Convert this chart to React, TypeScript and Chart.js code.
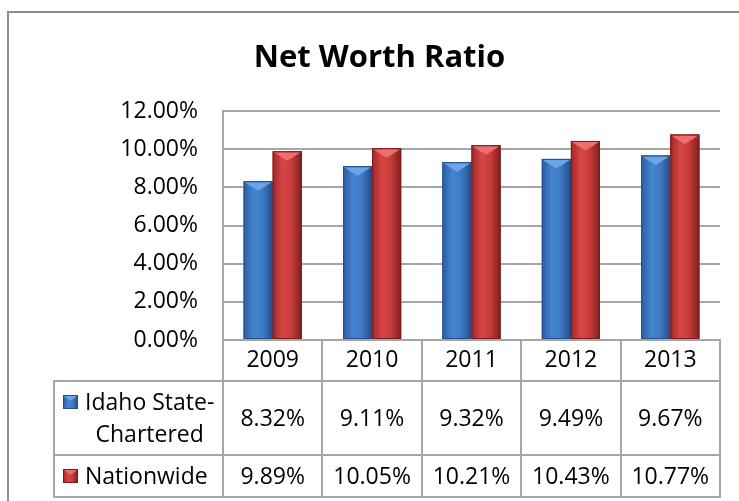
import React, { useEffect, useRef } from 'react';
import { Chart, registerables } from 'chart.js';

Chart.register(...registerables);

// ---- data ----
const TITLE = 'Net Worth Ratio';
const years = ['2009', '2010', '2011', '2012', '2013'];
const idahoLabel = ['Idaho State-', 'Chartered'];
const idahoValues = [8.32, 9.11, 9.32, 9.49, 9.67];
const nationLabel = ['Nationwide'];
const nationValues = [9.89, 10.05, 10.21, 10.43, 10.77];
const yMin = 0;
const yMax = 12;
const yStep = 2;

// ---- styles ----
const FONT = "'Open Sans', sans-serif";
const GRID = '#A6A6A6';
const FRAME = '#8C8C8C';

const SERIES = [
  {
    label: idahoLabel,
    values: idahoValues,
    base: '#3C78C2',
    stops: ['#2C5E9F', '#4584D0', '#3E7AC4', '#244C86'],
    tri: '#6AA5EC',
    border: '#24508C',
  },
  {
    label: nationLabel,
    values: nationValues,
    base: '#C83B3B',
    stops: ['#A02828', '#D84646', '#C73B3B', '#7E1F1F'],
    tri: '#EE6E6E',
    border: '#7A1C1C',
  },
];

function fmt(v: number) {
  return v.toFixed(2) + '%';
}

function drawBevelRect(ctx: CanvasRenderingContext2D, L: number, T: number, W: number, H: number, st: any, triDepth: number) {
  const g = ctx.createLinearGradient(L, 0, L + W, 0);
  g.addColorStop(0, st.stops[0]);
  g.addColorStop(0.35, st.stops[1]);
  g.addColorStop(0.65, st.stops[2]);
  g.addColorStop(1, st.stops[3]);
  ctx.fillStyle = g;
  ctx.fillRect(L, T, W, H);
  ctx.beginPath();
  ctx.moveTo(L + 1, T + 1);
  ctx.lineTo(L + W - 1, T + 1);
  ctx.lineTo(L + W / 2, T + triDepth);
  ctx.closePath();
  ctx.fillStyle = st.tri;
  ctx.fill();
  ctx.strokeStyle = st.border;
  ctx.lineWidth = 1;
  ctx.strokeRect(L + 0.5, T + 0.5, W - 1, H - 1);
}

const deco = {
  id: 'deco',
  beforeDraw(chart: any) {
    const ctx = chart.ctx as CanvasRenderingContext2D;
    ctx.save();
    ctx.fillStyle = '#FFFFFF';
    ctx.fillRect(0, 0, chart.width, chart.height);
    ctx.strokeStyle = FRAME;
    ctx.lineWidth = 2;
    ctx.strokeRect(8, 12, chart.width + 40, chart.height + 40);
    ctx.fillStyle = '#000000';
    ctx.font = `bold 31px ${FONT}`;
    ctx.textAlign = 'center';
    ctx.textBaseline = 'alphabetic';
    ctx.fillText(TITLE, 379.5, 67);
    ctx.restore();
  },
  afterDatasetsDraw(chart: any) {
    const ctx = chart.ctx as CanvasRenderingContext2D;
    ctx.save();
    chart.data.datasets.forEach((_ds: any, di: number) => {
      const meta = chart.getDatasetMeta(di);
      const st = SERIES[di];
      meta.data.forEach((el: any) => {
        const p = el.getProps(['x', 'y', 'base', 'width'], true);
        const L = p.x - p.width / 2;
        drawBevelRect(ctx, L, p.y, p.width, p.base - p.y, st, p.width * 0.33);
      });
    });
    ctx.restore();
  },
  afterDraw(chart: any) {
    const ctx = chart.ctx as CanvasRenderingContext2D;
    const xs = chart.scales.x;
    const a = chart.chartArea;
    const n = years.length;
    const edges: number[] = [];
    for (let i = 0; i <= n; i++) edges.push(Math.round(xs.getPixelForValue(i - 0.5)));
    const top = Math.round(a.bottom);
    const hb = Math.round(xs.bottom);
    const r1 = hb + 74;
    const r2 = r1 + 42;
    const left = 54;
    const right = edges[n];
    ctx.save();
    ctx.strokeStyle = GRID;
    ctx.lineWidth = 2;
    ctx.beginPath();
    ctx.moveTo(edges[0], top);
    ctx.lineTo(right, top);
    [hb, r1, r2].forEach((yy) => {
      ctx.moveTo(left, yy);
      ctx.lineTo(right + 1, yy);
    });
    ctx.moveTo(left, hb - 1);
    ctx.lineTo(left, r2 + 1);
    edges.forEach((ex) => {
      ctx.moveTo(ex, top - 1);
      ctx.lineTo(ex, r2 + 1);
    });
    ctx.stroke();

    ctx.fillStyle = '#000000';
    ctx.font = `23px ${FONT}`;
    ctx.textBaseline = 'alphabetic';
    const half = 8.2;
    const rows = [
      { top: hb, bottom: r1 },
      { top: r1, bottom: r2 },
    ];
    SERIES.forEach((st, ri) => {
      const rc = (rows[ri].top + rows[ri].bottom) / 2;
      const lines = st.label;
      const lh = 32;
      const firstCenter = rc - ((lines.length - 1) * lh) / 2;
      // legend square
      drawBevelRect(ctx, 63, Math.round(firstCenter - 7), 15, 14, st, 6);
      ctx.fillStyle = '#000000';
      const w0 = ctx.measureText(lines[0]).width;
      const cx = 85 + w0 / 2;
      ctx.textAlign = 'center';
      lines.forEach((t, li) => {
        ctx.fillText(t, cx, firstCenter + li * lh + half);
      });
      st.values.forEach((v, ci) => {
        ctx.fillText(fmt(v), xs.getPixelForValue(ci), rc + half);
      });
    });
    ctx.restore();
  },
};

export default function App() {
  const ref = useRef<HTMLCanvasElement>(null);
  useEffect(() => {
    const chart = new Chart(ref.current as HTMLCanvasElement, {
      type: 'bar',
      data: {
        labels: years,
        datasets: SERIES.map((s) => ({
          label: s.label.join(' '),
          data: s.values,
          backgroundColor: s.base,
          borderWidth: 0,
        })),
      },
      options: {
        animation: false,
        responsive: true,
        maintainAspectRatio: false,
        layout: { padding: { left: 8, top: 111, right: 19, bottom: 120 } },
        datasets: { bar: { categoryPercentage: 0.585, barPercentage: 1 } },
        plugins: {
          legend: { display: false },
          title: { display: false },
          tooltip: { enabled: false },
        },
        scales: {
          x: {
            grid: { display: false, drawTicks: false },
            border: { display: false },
            ticks: {
              font: { family: FONT, size: 23 },
              color: '#000000',
              padding: 7,
              maxRotation: 0,
              autoSkip: false,
            },
            afterFit: (s: any) => {
              s.height = 41;
            },
          },
          y: {
            min: yMin,
            max: yMax,
            ticks: {
              stepSize: yStep,
              padding: 25,
              font: { family: FONT, size: 23 },
              color: '#000000',
              callback: (v: any) => fmt(Number(v)),
            },
            grid: { color: GRID, lineWidth: 2, drawTicks: false },
            border: { display: true, color: GRID, width: 2 },
            afterFit: (s: any) => {
              s.width = 215;
            },
          },
        },
      } as any,
      plugins: [deco],
    });
    return () => chart.destroy();
  }, []);
  return (
    <div style={{ position: 'absolute', left: 0, top: 0, width: 739, height: 501 }}>
      <canvas ref={ref} />
    </div>
  );
}
